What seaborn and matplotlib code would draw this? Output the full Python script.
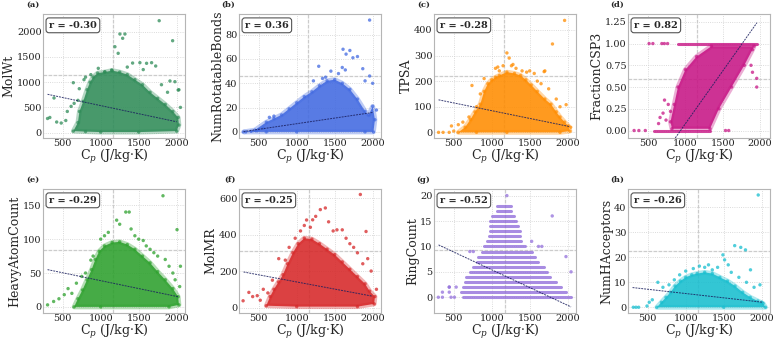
import numpy as np
import pandas as pd
import matplotlib
matplotlib.use("Agg")
import matplotlib.pyplot as plt
import seaborn as sns

# ---------------- data ----------------
panel_labels = ["(a)", "(b)", "(c)", "(d)", "(e)", "(f)", "(g)", "(h)"]
y_names = ["MolWt", "NumRotatableBonds", "TPSA", "FractionCSP3",
           "HeavyAtomCount", "MolMR", "RingCount", "NumHAcceptors"]
r_values = ["-0.30", "0.36", "-0.28", "0.82", "-0.29", "-0.25", "-0.52", "-0.26"]
colors = ["#2E8B57", "#4169E1", "#FF8C00", "#C71585",
          "#2ca02c", "#d62728", "#9370DB", "#17becf"]

# dense-cloud envelopes (x = Cp, y = descriptor)
molwt_env_x = [640, 700, 720, 770, 820, 860, 900, 960, 1050, 1150, 1250, 1350, 1450, 1550, 1650, 1750, 1850, 1950, 2020, 2030, 2000, 1500, 1000, 800]
molwt_env_y = [30, 200, 420, 620, 850, 1000, 1100, 1180, 1200, 1230, 1200, 1150, 1050, 950, 800, 680, 560, 420, 300, 150, 30, 10, 10, 20]
molwt_pts_x = [300, 330, 385, 420, 480, 540, 560, 610, 639, 650, 700, 718, 780, 800, 870, 968, 1056, 1144, 1187, 1230, 1253, 1289, 1319, 1350, 1420, 1516, 1560, 1604, 1670, 1724, 1770, 1800, 1880, 1912, 1947, 1977, 2020, 2030, 2050]
molwt_pts_y = [280, 300, 687, 210, 190, 240, 420, 520, 990, 580, 640, 871, 1050, 1100, 1150, 1275, 1208, 1242, 1704, 1573, 1956, 1871, 1956, 1300, 1380, 1387, 1250, 1375, 1387, 1321, 2220, 950, 800, 1024, 1823, 1010, 845, 850, 500]

rot_env_x = [300, 450, 600, 700, 800, 900, 1000, 1100, 1200, 1300, 1400, 1500, 1600, 1700, 1800, 1900, 1950, 2000, 2030, 2010, 1900, 1000, 600]
rot_env_y = [0, 1.5, 8, 11, 14, 19, 24, 29, 33, 38, 42, 43, 40, 35, 27, 17, 14, 21, 10, 0, 0, 0, 0]
rot_pts_x = [330, 400, 470, 500, 560, 640, 700, 1220, 1290, 1340, 1380, 1450, 1550, 1600, 1610, 1640, 1650, 1700, 1740, 1800, 1870, 1900, 1960, 1960, 2000, 2050]
rot_pts_y = [0, 0.5, 1, 2, 3, 12, 13, 42, 54, 44, 45, 50, 48, 53, 68, 51, 64, 67, 61, 62, 52, 42, 92, 46, 40, 18]

tpsa_env_x = [560, 650, 720, 780, 850, 900, 950, 1000, 1050, 1100, 1200, 1300, 1380, 1450, 1520, 1600, 1700, 1780, 1850, 1900, 1960, 2010, 2030, 1900, 1200, 800]
tpsa_env_y = [0, 20, 50, 80, 110, 160, 190, 205, 215, 222, 235, 230, 222, 205, 185, 160, 130, 110, 80, 60, 40, 25, 5, 0, 0, 0]
tpsa_pts_x = [300, 360, 440, 470, 500, 560, 620, 700, 740, 800, 850, 900, 1050, 1080, 1100, 1150, 1200, 1230, 1260, 1280, 1320, 1400, 1460, 1500, 1560, 1600, 1650, 1690, 1700, 1750, 1800, 1850, 1900, 1960, 1980, 2040]
tpsa_pts_y = [0, 0, 0, 25, 5, 30, 40, 60, 183, 100, 150, 210, 250, 255, 240, 260, 310, 290, 260, 265, 250, 240, 235, 240, 230, 200, 190, 237, 240, 170, 345, 130, 100, 437, 108, 20]

fsp3_env_x = [820, 1330, 1450, 1620, 1790, 1900, 1920, 1350, 1150, 1000, 900, 850, 800]
fsp3_env_y = [0.02, 0.02, 0.25, 0.5, 0.75, 0.93, 0.97, 0.97, 0.85, 0.7, 0.5, 0.3, 0.1]
fsp3_row_y = [0.0, 1.0]
fsp3_row_xmin = [577, 900]
fsp3_row_xmax = [1325, 1960]
fsp3_pts_x = [312, 376, 462, 513, 564, 640, 660, 684, 700, 718, 720, 740, 761, 770, 800, 1538, 1581, 1880, 1900, 1957, 1957]
fsp3_pts_y = [0.0, 0.0, 0.0, 1.0, 1.0, 0.08, 0.15, 1.0, 0.2, 1.0, 0.35, 0.12, 1.0, 0.3, 0.22, 0.0, 0.0, 0.75, 0.67, 0.6, 0.5]

hac_env_x = [650, 700, 760, 820, 880, 930, 980, 1050, 1150, 1250, 1350, 1450, 1550, 1650, 1750, 1850, 1950, 2020, 2030, 1900, 1000]
hac_env_y = [0, 12, 25, 40, 55, 70, 82, 90, 95, 96, 92, 85, 75, 65, 52, 40, 27, 15, 3, 0, 0]
hac_pts_x = [300, 380, 450, 520, 570, 620, 680, 750, 800, 870, 900, 1000, 1050, 1100, 1210, 1250, 1330, 1375, 1400, 1450, 1500, 1560, 1600, 1650, 1700, 1750, 1820, 1850, 1900, 1950, 1980, 2005, 2040, 2050]
hac_pts_y = [3, 8, 12, 18, 27, 20, 35, 45, 50, 69, 75, 100, 105, 110, 128, 122, 140, 140, 115, 105, 100, 98, 90, 85, 80, 75, 164, 70, 60, 50, 40, 114, 30, 60]

mr_env_x = [600, 650, 700, 760, 820, 880, 950, 1020, 1100, 1200, 1300, 1400, 1500, 1600, 1700, 1800, 1900, 1960, 2030, 2020, 1800, 1000]
mr_env_y = [10, 60, 100, 140, 180, 240, 300, 350, 380, 375, 350, 320, 290, 250, 210, 170, 130, 90, 60, 20, 5, 5]
mr_pts_x = [294, 370, 420, 480, 520, 560, 620, 680, 763, 850, 900, 980, 1050, 1100, 1130, 1180, 1210, 1250, 1311, 1377, 1420, 1480, 1530, 1600, 1650, 1700, 1750, 1800, 1838, 1870, 1913, 1935, 1980, 2050]
mr_pts_y = [37, 83, 60, 65, 40, 100, 80, 150, 268, 260, 330, 380, 420, 450, 480, 440, 481, 500, 537, 546, 470, 420, 426, 426, 380, 350, 330, 300, 620, 240, 417, 268, 200, 100]

ring_row_y = list(range(0, 19))
ring_row_xmin = [620, 600, 622, 645, 667, 712, 758, 803, 825, 870, 893, 938, 961, 983, 983, 983, 1006, 1065, 1065]
ring_row_xmax = [2045, 1978, 1910, 1842, 1774, 1729, 1684, 1616, 1570, 1526, 1435, 1390, 1368, 1368, 1345, 1322, 1300, 1255, 1255]
ring_pts_x = [297, 351, 441, 464, 509, 351, 441, 441, 532, 712, 758, 1616, 1660, 1526, 1797, 1978, 2045, 1200]
ring_pts_y = [0, 1, 1, 0, 0, 0, 2, 2, 2, 9, 9, 10, 10, 11, 16, 8, 5, 20]

hacc_env_x = [620, 680, 740, 800, 860, 930, 1000, 1080, 1150, 1250, 1350, 1450, 1550, 1650, 1750, 1850, 1950, 2020, 2050, 1500]
hacc_env_y = [0, 2, 4, 6, 8.5, 10.5, 12, 13, 13.5, 14, 13.5, 12, 10.5, 8.5, 6, 4, 2.5, 1.5, 0, 0]
hacc_pts_x = [310, 345, 380, 490, 520, 560, 633, 700, 780, 850, 920, 1000, 1100, 1180, 1250, 1300, 1350, 1420, 1490, 1512, 1560, 1600, 1645, 1700, 1725, 1787, 1800, 1853, 1900, 1955, 1978, 2000]
hacc_pts_y = [0, 0, 0, 0.5, 2, 3, 10, 8, 9, 11, 13, 14.5, 15.5, 16.5, 16, 17, 15, 16, 21, 19, 17, 14, 24.7, 12, 24, 23, 10, 15, 8, 45, 9, 2]

# regression lines (endpoints)
fit_x = [[300, 2000], [300, 2000], [300, 2020], [864, 1960],
         [300, 2020], [300, 2000], [300, 2045], [300, 2020]]
fit_y = [[760, 215], [0.3, 16], [127, 23], [-0.086, 1.24],
         [55, 15], [195, 62], [10.3, -1.9], [7.9, 2]]

# reference lines
ref_h = [1133, 45.8, 221, 0.594, 83.7, 309, 9.3, 22.7]
ref_v = [1160, 1150, 1165, 1150, 1165, 1160, 1175, 1165]

ylims = [(-107, 2353), (-5, 97), (-22, 462), (-0.086, 1.34),
         (-9, 174), (-30, 650), (-3.1, 21.3), (-2.3, 47.4)]
yticks = [[0, 500, 1000, 1500, 2000], [0, 20, 40, 60, 80], [0, 100, 200, 300, 400],
          [0.0, 0.25, 0.5, 0.75, 1.0, 1.25], [0, 50, 100, 150], [0, 200, 400, 600],
          [0, 5, 10, 15, 20], [0, 10, 20, 30, 40]]
xticks = [500, 1000, 1500, 2000]

envs = [(molwt_env_x, molwt_env_y), (rot_env_x, rot_env_y), (tpsa_env_x, tpsa_env_y),
        (fsp3_env_x, fsp3_env_y), (hac_env_x, hac_env_y), (mr_env_x, mr_env_y),
        None, (hacc_env_x, hacc_env_y)]
pts = [(molwt_pts_x, molwt_pts_y), (rot_pts_x, rot_pts_y), (tpsa_pts_x, tpsa_pts_y),
       (fsp3_pts_x, fsp3_pts_y), (hac_pts_x, hac_pts_y), (mr_pts_x, mr_pts_y),
       (ring_pts_x, ring_pts_y), (hacc_pts_x, hacc_pts_y)]
rows = {3: (fsp3_row_y, fsp3_row_xmin, fsp3_row_xmax),
        6: (ring_row_y, ring_row_xmin, ring_row_xmax)}

# ---------------- style ----------------
sns.set_theme(style="whitegrid")
plt.rcParams["font.family"] = ["DejaVu Serif"]
plt.rcParams["mathtext.fontset"] = "dejavuserif"
plt.rcParams["axes.edgecolor"] = "#b5b5b5"
plt.rcParams["axes.linewidth"] = 0.8

W, H = 774, 341
fig = plt.figure(figsize=(W / 100, H / 100), dpi=100)
lefts = [43, 239, 434, 628]
tops = [14, 189]
aw, ah = 142, 124

for i in range(8):
    r, c = divmod(i, 4)
    ax = fig.add_axes([lefts[c] / W, (H - tops[r] - ah) / H, aw / W, ah / H])
    col = colors[i]
    ax.grid(True, linestyle=":", color="#cfcfcf", linewidth=0.6)
    ax.set_axisbelow(True)

    if envs[i] is not None:
        ex, ey = envs[i]
        # soft fringe around the dense cloud
        ax.fill(ex, ey, facecolor="none", edgecolor=col, alpha=0.35,
                linewidth=3.5, joinstyle="round", zorder=2)
        ax.fill(ex, ey, color=col, alpha=0.88, linewidth=0, zorder=2)
        sns.scatterplot(x=ex, y=ey, ax=ax, color=col, s=6, alpha=0.7,
                        edgecolor="none", linewidth=0, zorder=2)
    if i in rows:
        ry, rx0, rx1 = rows[i]
        ax.hlines(ry, rx0, rx1, color=col, alpha=0.8, linewidth=2.2,
                  capstyle="round", zorder=2)
    px, py = pts[i]
    sns.scatterplot(x=px, y=py, ax=ax, color=col, s=6, alpha=0.75,
                    edgecolor="none", linewidth=0, zorder=3)

    ax.axhline(ref_h[i], color="#cccccc", linewidth=0.9, linestyle=(0, (3, 1)), zorder=1)
    ax.axvline(ref_v[i], color="#cccccc", linewidth=0.9, linestyle=(0, (3, 1)), zorder=1)

    ax.plot(fit_x[i], fit_y[i], color="#1a1f5e", linewidth=0.7,
            linestyle=(0, (2, 1)), alpha=0.85, zorder=4)

    if i == 3:
        ax.set_xlim(230, 2135)
    else:
        ax.set_xlim(240, 2110)
    ax.set_ylim(*ylims[i])
    ax.set_xticks(xticks)
    ax.set_yticks(yticks[i])
    if i == 3:
        ax.set_yticklabels([f"{v:.2f}" for v in yticks[i]])
    ax.tick_params(axis="both", length=0, pad=1, labelsize=7, colors="#222222")
    ax.set_xlabel(r"C$_p$ (J/kg·K)", fontsize=9, labelpad=0)
    ax.set_ylabel(y_names[i], fontsize=9, labelpad=1)

    ax.text(0.042, 0.945, f"r = {r_values[i]}", transform=ax.transAxes,
            ha="left", va="top", fontsize=7, fontweight="bold", zorder=6,
            bbox=dict(boxstyle="round,pad=0.3", fc="white", ec="#555555", lw=0.8))
    ax.text(-0.025, 1.07, panel_labels[i], transform=ax.transAxes,
            ha="right", va="center", fontsize=6, fontweight="bold")

fig.savefig("out.png", dpi=100)
